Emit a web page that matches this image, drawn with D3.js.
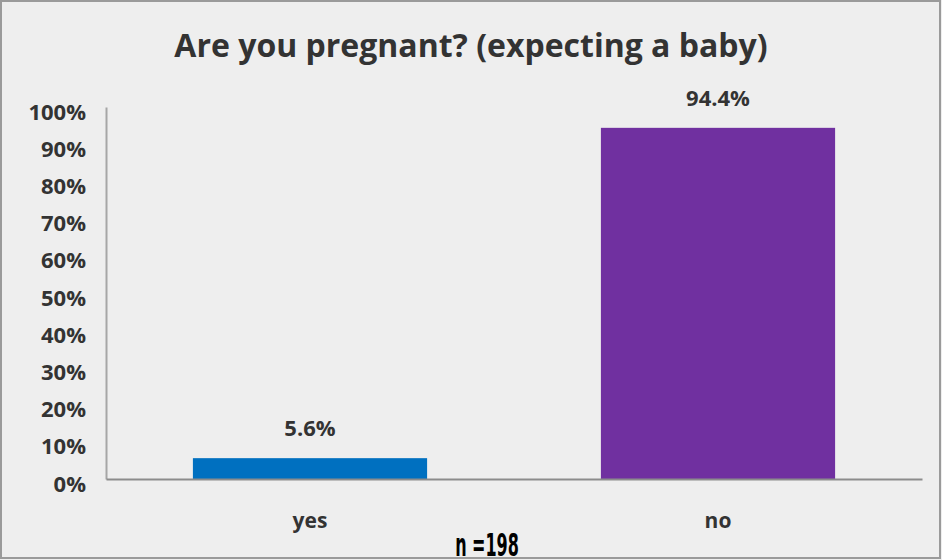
<!DOCTYPE html>
<html>
<head>
<meta charset="utf-8">
<script src="https://cdn.jsdelivr.net/npm/d3@7"></script>
<style>
  html, body { margin: 0; padding: 0; background: #eeeeee; }
  svg { display: block; }
</style>
</head>
<body>
<svg id="chart" width="942" height="560"></svg>
<script>
// Survey answers and their shares (percent)
const categories = ["yes", "no"];
const shares = [5.6, 94.4];
const barColors = ["#0070c0", "#7030a0"];
const yTicks = [0, 10, 20, 30, 40, 50, 60, 70, 80, 90, 100];
const titleText = "Are you pregnant? (expecting a baby)";
const sampleText = "n =198";

const svg = d3.select("#chart");
const W = 942, H = 560;
const margin = { top: 108, right: 20, bottom: 81, left: 106 };

svg.append("rect")
  .attr("x", 0).attr("y", 0).attr("width", W).attr("height", H)
  .attr("fill", "#eeeeee");

const x = d3.scaleBand()
  .domain(categories)
  .range([margin.left, W - margin.right])
  .paddingInner(0.426).paddingOuter(0.213);

const y = d3.scaleLinear()
  .domain([0, 100])
  .range([H - margin.bottom, margin.top - 1]);

const font = "'Open Sans', 'DejaVu Sans', sans-serif";

// title
svg.append("text")
  .attr("x", 471).attr("y", 57)
  .attr("text-anchor", "middle")
  .attr("font-family", font).attr("font-weight", 700)
  .attr("font-size", 32).attr("fill", "#333333")
  .text(titleText);

// y axis
const yAxis = svg.append("g")
  .attr("transform", `translate(${margin.left},0)`)
  .call(d3.axisLeft(y).tickValues(yTicks).tickFormat(d => d + "%").tickSize(0).tickPadding(20));
yAxis.select(".domain").attr("stroke", "#a6a6a6").attr("stroke-width", 2);
yAxis.selectAll("text")
  .attr("dy", 12)
  .attr("font-family", font).attr("font-weight", 700)
  .attr("font-size", 22).attr("fill", "#333333");

// bars
svg.append("g").selectAll("rect")
  .data(categories)
  .join("rect")
  .attr("x", d => x(d))
  .attr("width", x.bandwidth())
  .attr("y", (d, i) => y(shares[i]))
  .attr("height", (d, i) => y(0) - y(shares[i]))
  .attr("fill", (d, i) => barColors[i]);

// x axis (drawn over bar bottoms)
const xAxis = svg.append("g")
  .attr("transform", `translate(0,${y(0)})`)
  .call(d3.axisBottom(x).tickSize(0).tickPadding(34));
xAxis.select(".domain").attr("stroke", "#8c8c8c").attr("stroke-width", 2);
xAxis.selectAll("text")
  .attr("font-family", font).attr("font-weight", 700)
  .attr("font-size", 21).attr("fill", "#333333");

// value labels
svg.append("g").selectAll("text")
  .data(categories)
  .join("text")
  .attr("x", d => x(d) + x.bandwidth() / 2)
  .attr("y", (d, i) => y(shares[i]) - 22)
  .attr("text-anchor", "middle")
  .attr("font-family", font).attr("font-weight", 700)
  .attr("font-size", 22).attr("fill", "#333333")
  .text((d, i) => shares[i].toFixed(1) + "%");

// sample size note
svg.append("text")
  .attr("transform", "translate(487,556) scale(0.5,1)")
  .attr("text-anchor", "middle")
  .attr("font-family", "'DejaVu Sans', sans-serif").attr("font-weight", 700)
  .attr("font-size", 32).attr("fill", "#000000")
  .text(sampleText);

// outer frame
svg.append("rect")
  .attr("x", 1).attr("y", 1).attr("width", W - 3).attr("height", H - 3)
  .attr("fill", "none").attr("stroke", "#9a9a9a").attr("stroke-width", 2);
</script>
</body>
</html>
